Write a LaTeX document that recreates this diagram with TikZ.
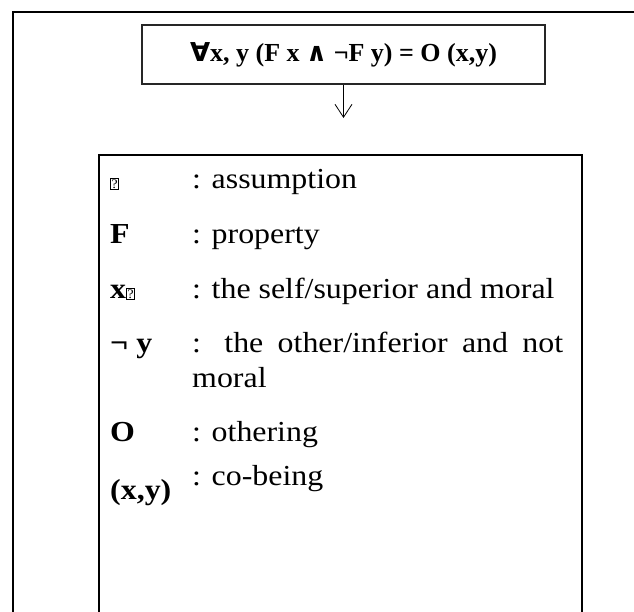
\documentclass[tikz,border=0pt]{standalone}
\usepackage{fontspec}
\setmainfont{Liberation Serif}
\newfontfamily\legfont[FakeStretch=1.1]{Liberation Serif}
\newfontfamily\symfont{DejaVu Sans}
\usetikzlibrary{arrows.meta}
\newcommand{\missingglyph}{{\setlength{\fboxsep}{0.6pt}\setlength{\fboxrule}{0.5pt}\fbox{\fontsize{13}{13}\selectfont\mdseries ?}}}
\begin{document}
\begin{tikzpicture}[x=1pt,y=-1pt,
  frame/.style={draw=black,line width=2pt},
  formula/.style={draw=black!85,line width=2pt,minimum width=403pt,minimum height=59pt,inner sep=0pt,
     font=\fontsize{26}{30}\selectfont\bfseries},
  legtext/.style={anchor=base west,inner sep=0pt,font=\legfont\fontsize{29}{32}\selectfont},
  leglabel/.style={anchor=base west,inner sep=0pt,font=\legfont\fontsize{29}{32}\selectfont\bfseries},
  conn/.style={draw=black,line width=0.8pt,-{Straight Barb[length=13pt,width=17pt,line width=0.8pt]}}]
\useasboundingbox (0,0) rectangle (634,611);
\fill[white] (0,0) rectangle (634,611);
% outer frame (runs past right and bottom edges)
\node[frame,anchor=north west,minimum width=640pt,minimum height=640pt,inner sep=0pt] (outer) at (12,11) {};
% formula box
\node[formula] (top) at (343.5,54.5) {{\symfont\bfseries ∀}x, y (F x {\symfont\bfseries ∧} ¬F y) = O (x,y)};
% legend box (runs past bottom edge)
\node[frame,anchor=north west,minimum width=483pt,minimum height=500pt,inner sep=0pt] (legend) at (98,154) {};
\coordinate (arrowend) at (343.5,118);
\draw[conn] (top.south) -- (arrowend);
% legend rows
\node[leglabel] (l1) at (110,188) {\missingglyph};
\node[legtext] (d1) at (192,188) {: assumption};
\node[leglabel] (l2) at (110,243) {F};
\node[legtext] (d2) at (192,243) {: property};
\node[leglabel] (l3) at (110,298) {x\missingglyph};
\node[legtext] (d3) at (192,298) {: the self/superior and moral};
\node[leglabel] (l4) at (110,352) {¬ y};
\node[legtext] (d4) at (192,352) {\makebox[371pt][s]{: the other/inferior and not}};
\node[legtext] (d4b) at (192,387) {moral};
\node[leglabel] (l5) at (110,441) {O};
\node[legtext] (d5) at (192,441) {: othering};
\node[leglabel] (l6) at (110,499) {(x,y)};
\node[legtext] (d6) at (192,485) {: co-being};
\end{tikzpicture}
\end{document}
